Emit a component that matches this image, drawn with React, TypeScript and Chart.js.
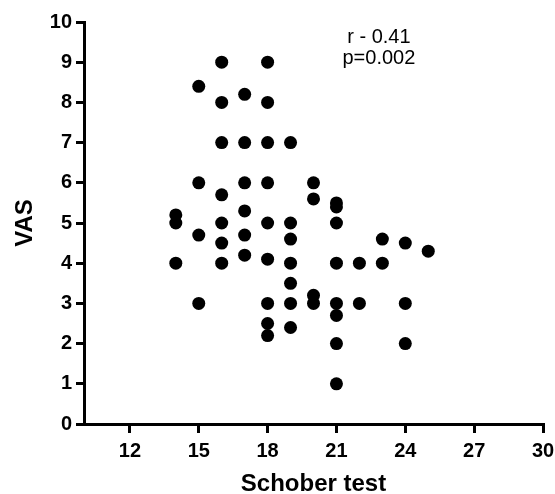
import React, { useEffect, useRef } from "react";
import { Chart, registerables } from "chart.js";

Chart.register(...registerables);

// Data (Schober test vs VAS)
const schober: number[] = [
  14, 14, 14,
  15, 15, 15, 15,
  16, 16, 16, 16, 16, 16, 16,
  17, 17, 17, 17, 17, 17,
  18, 18, 18, 18, 18, 18, 18, 18, 18,
  19, 19, 19, 19, 19, 19, 19,
  20, 20, 20, 20,
  21, 21, 21, 21, 21, 21, 21, 21,
  22, 22,
  23, 23,
  24, 24, 24,
  25,
];
const vas: number[] = [
  5.2, 5.0, 4.0,
  8.4, 6.0, 4.7, 3.0,
  9.0, 8.0, 7.0, 5.7, 5.0, 4.5, 4.0,
  8.2, 7.0, 6.0, 5.3, 4.7, 4.2,
  9.0, 8.0, 7.0, 6.0, 5.0, 4.1, 3.0, 2.5, 2.2,
  7.0, 5.0, 4.6, 4.0, 3.5, 3.0, 2.4,
  6.0, 5.6, 3.2, 3.0,
  5.5, 5.4, 5.0, 4.0, 3.0, 2.7, 2.0, 1.0,
  4.0, 3.0,
  4.6, 4.0,
  4.5, 3.0, 2.0,
  4.3,
];
const xTickValues: number[] = [12, 15, 18, 21, 24, 27, 30];
const yTickValues: number[] = [0, 1, 2, 3, 4, 5, 6, 7, 8, 9, 10];
const xTitle = "Schober test";
const yTitle = "VAS";
const statLines: string[] = ["r - 0.41", "p=0.002"];
const statAnchor = { x: 22.85, y: 9.48 };

const FONT = "'Liberation Sans', Arial, Helvetica, sans-serif";

export default function App() {
  const ref = useRef<HTMLCanvasElement | null>(null);

  useEffect(() => {
    const canvas = ref.current;
    if (!canvas) return;

    const statPlugin = {
      id: "statText",
      afterDraw(chart: any) {
        const { ctx, scales } = chart;
        const cx = scales.x.getPixelForValue(statAnchor.x);
        const cy = scales.y.getPixelForValue(statAnchor.y);
        ctx.save();
        ctx.fillStyle = "#000";
        ctx.font = `20px ${FONT}`;
        ctx.textAlign = "center";
        ctx.textBaseline = "alphabetic";
        statLines.forEach((line, i) => {
          ctx.fillText(line, cx, cy + i * 21);
        });
        ctx.restore();
      },
    };

    const chart = new Chart(canvas, {
      type: "scatter",
      data: {
        datasets: [
          {
            data: schober.map((x, i) => ({ x, y: vas[i] })),
            backgroundColor: "#000",
            borderColor: "#000",
            borderWidth: 0,
            pointRadius: 6.5,
            pointHoverRadius: 6.5,
          },
        ],
      },
      options: {
        responsive: false,
        animation: false,
        events: [],
        layout: { padding: { top: 22, right: 12, left: 0, bottom: 0 } },
        plugins: { legend: { display: false }, tooltip: { enabled: false } },
        scales: {
          x: {
            type: "linear",
            min: 10,
            max: 30,
            afterBuildTicks: (s: any) => {
              s.ticks = xTickValues.map((v) => ({ value: v }));
            },
            afterFit: (s: any) => {
              s.height = 70;
              s.paddingLeft = 0;
              s.paddingRight = 0;
            },
            grid: {
              display: true,
              drawOnChartArea: false,
              drawTicks: true,
              tickLength: 9,
              lineWidth: 3,
              color: "#000",
            },
            border: { display: true, width: 3, color: "#000" },
            ticks: {
              color: "#000",
              padding: 6,
              maxRotation: 0,
              autoSkip: false,
              font: { family: FONT, size: 20, weight: "bold" },
            },
            title: {
              display: true,
              text: xTitle,
              color: "#000",
              padding: { top: 0, bottom: -5 },
              font: { family: FONT, size: 24, weight: "bold" },
            },
          },
          y: {
            type: "linear",
            min: 0,
            max: 10,
            afterBuildTicks: (s: any) => {
              s.ticks = yTickValues.map((v) => ({ value: v }));
            },
            afterFit: (s: any) => {
              s.width = 84;
              s.paddingTop = 0;
              s.paddingBottom = 0;
            },
            grid: {
              display: true,
              drawOnChartArea: false,
              drawTicks: true,
              tickLength: 8,
              lineWidth: 3,
              color: "#000",
            },
            border: { display: true, width: 3, color: "#000" },
            ticks: {
              color: "#000",
              padding: 4,
              autoSkip: false,
              font: { family: FONT, size: 20, weight: "bold" },
            },
            title: {
              display: true,
              text: yTitle,
              color: "#000",
              padding: { top: 11, bottom: 0 },
              font: { family: FONT, size: 24, weight: "bold" },
            },
          },
        },
      },
      plugins: [statPlugin],
    } as any);

    return () => chart.destroy();
  }, []);

  return (
    <div
      style={{
        position: "fixed",
        left: 0,
        top: 0,
        width: 555,
        height: 494,
        background: "#fff",
      }}
    >
      <canvas ref={ref} width={555} height={494} style={{ width: 555, height: 494 }} />
    </div>
  );
}
